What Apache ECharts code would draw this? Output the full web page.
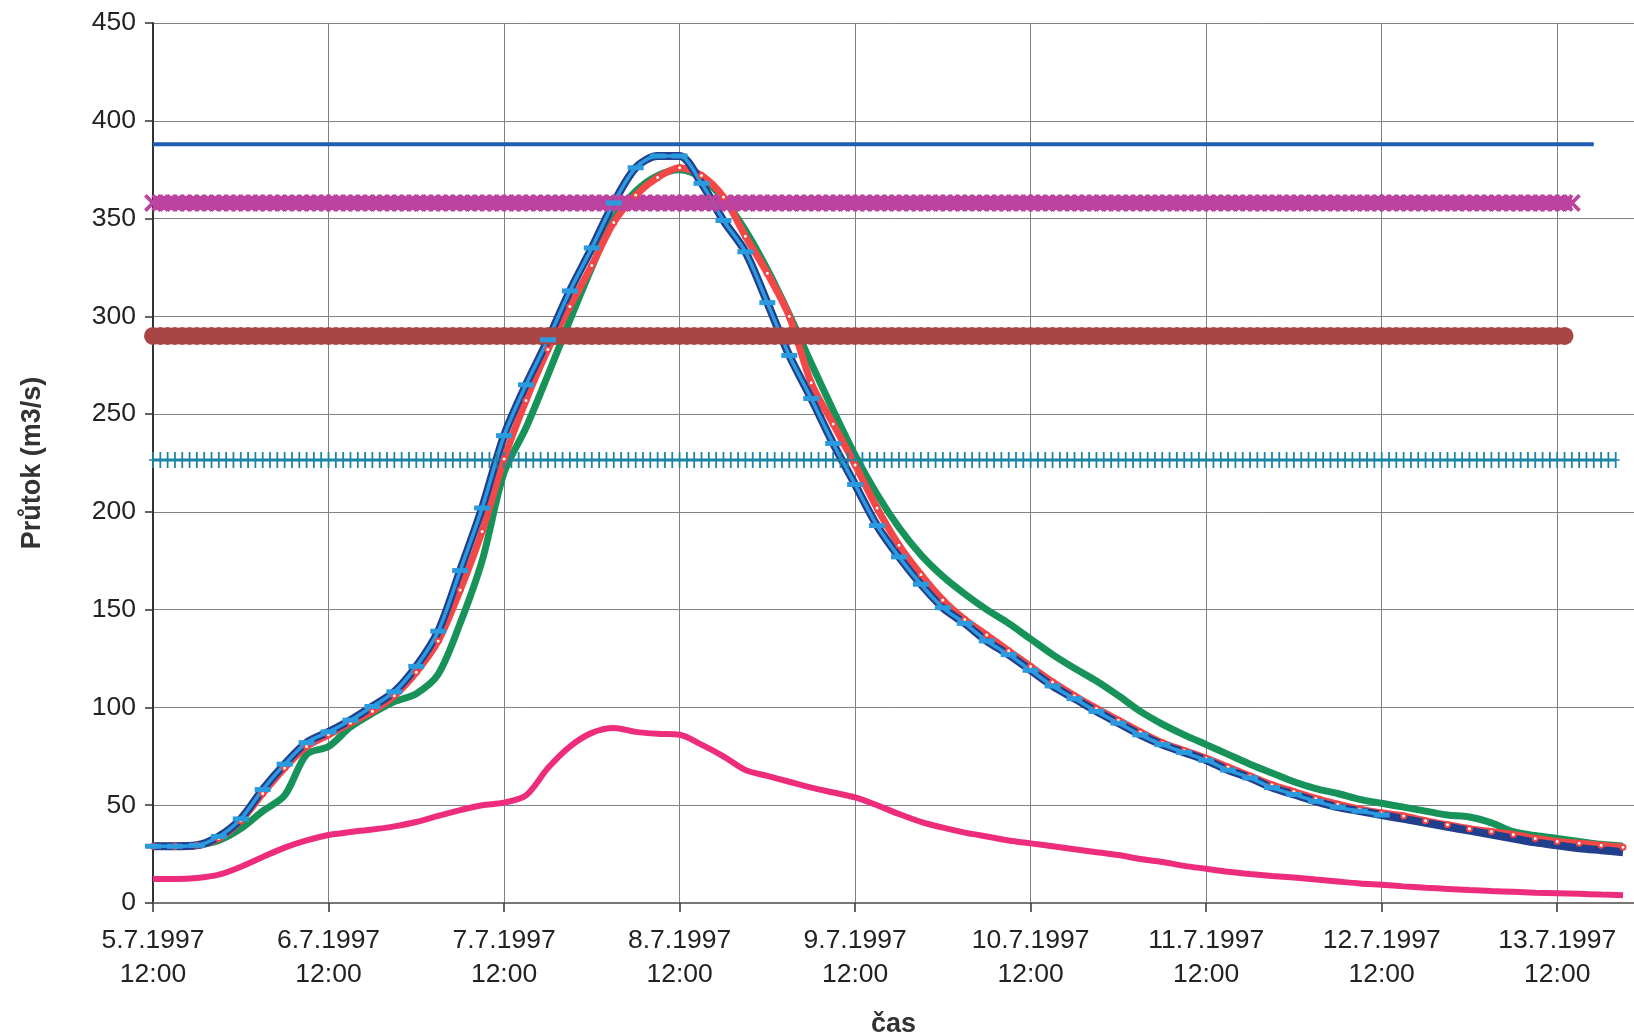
<!DOCTYPE html>
<html><head><meta charset="utf-8">
<script src="https://cdn.jsdelivr.net/npm/echarts@6/dist/echarts.min.js"></script>
<style>html,body{margin:0;padding:0;background:#fff}#c{width:1634px;height:1034px}</style>
</head><body><div id="c"></div>
<script>
// time in hours since 5.7.1997 12:00
const hours = [0,3,6,9,12,15,18,21,24,27,30,33,36,39,42,45,48,51,54,57,60,63,66,69,72,75,78,81,84,87,90,93,96,99,102,105,108,111,114,117,120,123,126,129,132,135,138,141,144,147,150,153,156,159,162,165,168,171,174,177,180,183,186,189,192,195,198,201];
const tickLabels = ['5.7.1997\n12:00','6.7.1997\n12:00','7.7.1997\n12:00','8.7.1997\n12:00','9.7.1997\n12:00','10.7.1997\n12:00','11.7.1997\n12:00','12.7.1997\n12:00','13.7.1997\n12:00'];

const navyFlow = [29,29,29.5,34,43,58,71,82,87.5,93.5,100.5,108,121,139,170,202,239,265,288,313,335,358,376,382,382,368,349,333,307,280,258,235,214,193,177,163,151,143,134,127,119,111,104.5,98,92,86,81,77,73,68,64,59,55.5,52,49,47,45,43,41,39,37,35,33,31,29.5,28,27,26];
const lightBlueFlow = [29,29,29.5,34,43,58,71,82,87.5,93.5,100.5,108,121,139,170,202,239,265,288,313,335,358,376,382,382,368,349,333,307,280,258,235,214,193,177,163,151,143,134,127,119,111,104.5,98,92,86,81,77,73,68,64,59,55.5,52,49,47,45];
const redFlow = [29,29,29.5,33,42,56,69,80,86,92,98,106,118,134,160,190,227,257,283,305,326,348,362,371,376,372,361,341,322,300,266,245,224,202,183,168,155,145,137,129,121,113,106,99.5,93.5,87.5,82,78,74,69.5,65,60.5,57,53.5,50.5,48,46,44.5,42,40,38,36.5,35,33,31.5,30.5,29.5,28.5];
const greenFlow = [29,29,29.5,32,38,47,55,76,80,90,97,103,107,117,143,175,220,243,270,298,325,350,364,372,375,371,360,344,324,301,276,252,229,209,192,178,167,158,150,143,135,127,120,113.5,106,98,91.5,86,81,76,71,66.5,62,58.5,56,53,51,49,47,45,44,41,36.5,34.5,33,31.5,30,29];
const pinkFlow = [12.3,12.3,12.8,14.5,18.5,23.5,28.3,32,34.8,36.3,37.6,39.2,41.4,44.5,47.5,50,51.3,55,69,80,87,89.5,87.5,86.5,86,81,75,68,65,62,59,56.5,54,50,45.5,41.5,38.5,36,34,32,30.5,29,27.5,26,24.5,22.5,21,19,17.5,16,14.8,13.8,13,12,11,10,9.3,8.5,7.8,7.2,6.6,6.1,5.7,5.3,5,4.7,4.3,4];

// constant flow levels (m3/s) and the hour at which each drawn line ends
const levelBlue = 388, levelBlueEnd = 197;
const levelMagenta = 358, levelMagentaEnd = 194;
const levelBrown = 290, levelBrownEnd = 193;
const levelTeal = 226.5, levelTealEnd = 200;

function pairs(vals){ return vals.map((v,i)=>[hours[i], v]); }
function level(v, end){ const d=[]; for(let h=0; h<=end; h++) d.push([h, v]); return d; }

const FONT = 'Liberation Sans';
const chart = echarts.init(document.getElementById('c'), null, {renderer:'canvas'});
const xPath = 'path://M0,3 L3,0 L10,7 L17,0 L20,3 L13,10 L20,17 L17,20 L10,13 L3,20 L0,17 L7,10 Z';
const plusPath = 'path://M3.5,0 H5.5 V9 H9 V11 H5.5 V20 H3.5 V11 H0 V9 H3.5 Z';
const SM = 0.3;

chart.setOption({
  animation:false,
  backgroundColor:'#fff',
  grid:{left:153, right:0, top:23, bottom:131, containLabel:false, outerBoundsMode:'none'},
  xAxis:[{
    type:'value', min:0, max:202.5, interval:24,
    axisLine:{show:true, onZero:false, lineStyle:{color:'#333', width:2}},
    axisTick:{show:true, length:9, lineStyle:{color:'#333', width:1.5}},
    axisLabel:{fontFamily:FONT, fontSize:26.5, color:'#222', lineHeight:34, margin:21, showMaxLabel:false,
      formatter:function(v){ const i=Math.round(v/24); return (Math.abs(v-i*24)<1e-6 && i<tickLabels.length)?tickLabels[i]:''; }},
    splitLine:{show:true, lineStyle:{color:'#808080', width:1}},
    name:'čas', nameLocation:'middle', nameGap:108,
    nameTextStyle:{fontFamily:FONT, fontWeight:'bold', fontSize:27, color:'#333'}
  },{
    type:'value', position:'top', min:0, max:202.5,
    axisLine:{show:true, lineStyle:{color:'#777', width:2}},
    axisTick:{show:false}, axisLabel:{show:false}, splitLine:{show:false}
  }],
  yAxis:{
    type:'value', min:0, max:450, interval:50,
    axisLine:{show:true, lineStyle:{color:'#333', width:2}},
    axisTick:{show:true, length:8, lineStyle:{color:'#333', width:1.5}},
    axisLabel:{fontFamily:FONT, fontSize:26.5, color:'#222', margin:17},
    splitLine:{show:true, lineStyle:{color:'#808080', width:1}},
    name:'Průtok (m3/s)', nameLocation:'middle', nameGap:107, nameRotate:90,
    nameTextStyle:{fontFamily:FONT, fontWeight:'bold', fontSize:27, color:'#333'}
  },
  series:[
    {type:'line', data:level(levelTeal, levelTealEnd), clip:false, symbol:plusPath, symbolSize:[8,16],
      itemStyle:{color:'#1a85a6'}, lineStyle:{color:'#1a85a6', width:3}},
    {type:'line', data:level(levelBrown, levelBrownEnd), clip:false, symbol:'circle', symbolSize:18,
      itemStyle:{color:'#a84646'}, lineStyle:{color:'#a84646', width:15}},
    {type:'line', data:level(levelMagenta, levelMagentaEnd), clip:false, symbol:xPath, symbolSize:18,
      itemStyle:{color:'#bd43a0'}, lineStyle:{color:'#bd43a0', width:14}},
    {type:'line', data:level(levelBlue, levelBlueEnd), clip:false, showSymbol:false,
      lineStyle:{color:'#1f5cb3', width:4}},
    {type:'line', data:pairs(greenFlow), smooth:SM, showSymbol:false,
      lineStyle:{color:'#17935a', width:7}},
    {type:'line', data:pairs(redFlow), smooth:SM, symbol:'emptyCircle', symbolSize:5,
      itemStyle:{color:'#f04444', borderWidth:1.5}, lineStyle:{color:'#f44848', width:7}},
    {type:'line', data:pairs(navyFlow), smooth:SM, showSymbol:false,
      lineStyle:{color:'#213f8c', width:8}},
    {type:'line', data:pairs(lightBlueFlow), smooth:SM, symbol:'rect', symbolSize:[16,5],
      itemStyle:{color:'#2b9be0'}, lineStyle:{color:'#2b9be0', width:3.5}},
    {type:'line', data:pairs(pinkFlow), smooth:SM, showSymbol:false,
      lineStyle:{color:'#ee2c7c', width:6}}
  ]
});
</script></body></html>
